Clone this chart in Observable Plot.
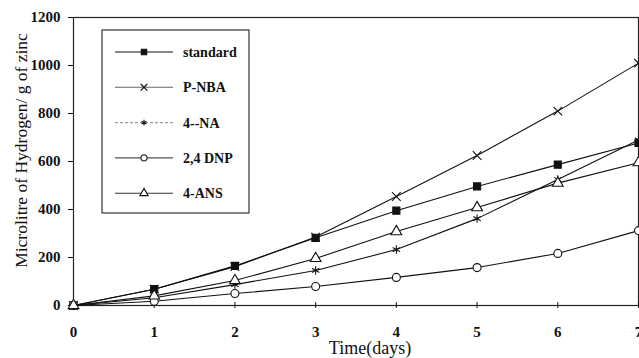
<!DOCTYPE html>
<html>
<head>
<meta charset="utf-8">
<script src="https://cdn.jsdelivr.net/npm/d3@7"></script>
<script src="https://cdn.jsdelivr.net/npm/@observablehq/plot@0.6"></script>
<style>
  html, body { margin: 0; padding: 0; background: #fff; overflow: hidden; }
  #chart { position: relative; width: 639px; height: 358px; overflow: hidden; }
  svg { font-family: "Liberation Serif", "Times New Roman", serif; }
</style>
</head>
<body>
<div id="chart"></div>
<script>
// ---- data ----
const days = [0, 1, 2, 3, 4, 5, 6, 7];
const seriesNames = ["standard", "P-NBA", "4--NA", "2,4 DNP", "4-ANS"];
const standard = [0, 68, 165, 282, 395, 496, 587, 677];
const pnba     = [0, 68, 162, 285, 454, 625, 810, 1010];
const na4      = [0, 32, 87, 146, 233, 362, 525, 690];
const dnp      = [0, 18, 50, 79, 117, 158, 217, 312];
const ans4     = [0, 40, 104, 196, 308, 408, 510, 595];
const xTicks = [0, 1, 2, 3, 4, 5, 6, 7];
const yTicks = [0, 200, 400, 600, 800, 1000, 1200];

const seriesValues = [standard, pnba, na4, dnp, ans4];
const symbols = {"standard": "square", "P-NBA": "times", "4--NA": "asterisk", "2,4 DNP": "circle", "4-ANS": "triangle"};
const fills = {"standard": "#111", "P-NBA": "none", "4--NA": "none", "2,4 DNP": "#fff", "4-ANS": "#fff"};

const rows = [];
seriesNames.forEach((name, i) => {
  days.forEach((d, j) => rows.push({series: name, day: d, value: seriesValues[i][j]}));
});

const plot = Plot.plot({
  width: 639,
  height: 358,
  marginLeft: 73,
  marginRight: 1,
  marginTop: 17,
  marginBottom: 53,
  style: {fontFamily: "'Liberation Serif', 'Times New Roman', serif", background: "#fff", color: "#111", overflow: "hidden"},
  x: {domain: [0, 7]},
  y: {domain: [0, 1200]},
  marks: [
    Plot.frame({stroke: "#222", strokeWidth: 1.2}),
    Plot.axisY({ticks: yTicks, tickFormat: "d", tickSize: 5, tickPadding: 8, fontSize: 15, fontWeight: "bold", label: null}),
    Plot.axisX({ticks: xTicks, tickFormat: "d", tickSize: 3, tickPadding: 18, fontSize: 15, fontWeight: "bold", label: null}),
    Plot.axisX({ticks: xTicks, tickSize: -3, tickFormat: () => "", label: null}),
    Plot.line(rows, {x: "day", y: "value", z: "series", stroke: "#111", strokeWidth: 1.1}),
    Plot.dot(rows, {
      x: "day", y: "value",
      symbol: d => symbols[d.series],
      fill: d => fills[d.series],
      stroke: "#111", strokeWidth: 1.1, r: 4
    }),
    Plot.text(["Time(days)"], {frameAnchor: "bottom", textAnchor: "middle", dy: 48, dx: 14, fontSize: 18, fill: "#111"}),
    Plot.text(["Microlitre of Hydrogen/ g of zinc"], {frameAnchor: "left", textAnchor: "middle", dx: -52, dy: -11, rotate: -90, fontSize: 17.5, fill: "#111"})
  ]
});
plot.setAttribute("fill", "#111");
document.getElementById("chart").appendChild(plot);

// ---- legend drawn inside the svg ----
const svg = d3.select(plot);
const lg = svg.append("g").attr("class", "legend").attr("text-anchor", "start");
lg.append("rect").attr("x", 102).attr("y", 30).attr("width", 147).attr("height", 183)
  .attr("fill", "#fff").attr("stroke", "#222").attr("stroke-width", 1.1);
const symMap = {square: d3.symbolSquare, times: d3.symbolTimes, asterisk: d3.symbolAsterisk, circle: d3.symbolCircle, triangle: d3.symbolTriangle};
const lineCols = {"standard": "#111", "P-NBA": "#666", "4--NA": "#999", "2,4 DNP": "#555", "4-ANS": "#333"};
seriesNames.forEach((name, i) => {
  const y = 52 + i * 35.3;
  const g = lg.append("g");
  g.append("line").attr("x1", 115).attr("x2", 173).attr("y1", y).attr("y2", y)
    .attr("stroke", lineCols[name]).attr("stroke-width", 1.1)
    .attr("stroke-dasharray", name === "4--NA" ? "3,2" : null);
  const sym = symbols[name];
  const size = Math.PI * 4 * 4;
  g.append("path").attr("transform", `translate(144,${y})`)
    .attr("d", d3.symbol(symMap[sym], name === "4--NA" ? size * 0.45 : size * 0.6)())
    .attr("fill", fills[name]).attr("stroke", "#111").attr("stroke-width", 1.1);
  g.append("text").attr("x", 183).attr("y", y).attr("dy", "0.35em").attr("text-anchor", "start")
    .attr("font-size", 14).attr("font-weight", "bold").attr("fill", "#111").text(name);
});
</script>
</body>
</html>
